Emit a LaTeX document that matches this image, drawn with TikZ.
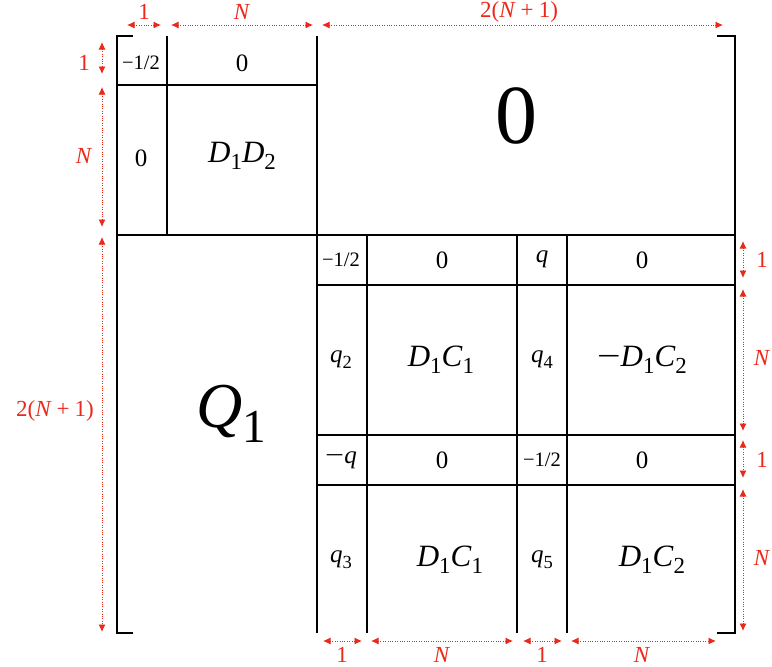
\documentclass[tikz,border=0pt]{standalone}
\usepackage{fontspec}
\setmainfont{Liberation Serif}
\usepackage{graphicx}
\usetikzlibrary{arrows.meta}
\definecolor{dimred}{RGB}{235,40,25}
\newcommand{\lo}[1]{\raisebox{-0.24em}{\scalebox{0.74}{#1}}}
\newcommand{\mi}[1]{\textit{#1}}
\newcommand{\fsz}[1]{\fontsize{#1}{#1}\selectfont}
\newcommand{\mn}{\scalebox{1.35}[1]{−}}
\begin{document}
\begin{tikzpicture}[x=1pt,y=-1pt,
  grid/.style={line width=1.7pt, black},
  brk/.style={line width=2.2pt, black},
  dimline/.style={dimred, line width=0.9pt, dash pattern=on 1pt off 1.4pt, {Latex[length=7.5pt,width=7pt]}-{Latex[length=7.5pt,width=7pt]}},
  dimlab/.style={text=dimred, font=\fsz{23}, inner sep=0pt},
  cell/.style={inner sep=0pt, font=\fsz{25}},
  small/.style={inner sep=0pt, font=\fsz{20.5}},
  mid/.style={inner sep=0pt, font=\fsz{31}}]
\useasboundingbox (0,0) rectangle (772,667);

% brackets
\draw[brk] (133,36) -- (117,36) -- (117,633) -- (133,633);
\draw[brk] (717,36) -- (735,36) -- (735,633) -- (717,633);

% top-left block
\draw[grid] (167,36) -- (167,235);
\draw[grid] (117,85) -- (317,85);
\draw[grid] (317,36) -- (317,633);
\draw[grid] (117,235) -- (735,235);

% bottom-right block
\foreach \xx in {367,517,567} \draw[grid] (\xx,235) -- (\xx,633);
\foreach \yy in {285,435,485} \draw[grid] (317,\yy) -- (735,\yy);

% texts top-left
\node[small] (a11) at (141,63) {−1/2};
\node[cell] (a12) at (242,63) {0};
\node[cell] (a21) at (141,158) {0};
\node[mid] (a22) at (242,156) {\mi{D}\lo{1}\mi{D}\lo{2}};
\node[inner sep=0pt, font=\fsz{84}] (zero) at (516,116) {0};
\node[inner sep=0pt, font=\fsz{64}] (q1) at (231,414) {\mi{Q}\lo{1}};

% bottom-right texts
\node[small] (b11) at (341,260) {−1/2};
\node[cell] (b12) at (442,260) {0};
\node[cell] (b13) at (542,259) {\mi{q}};
\node[cell] (b14) at (642,260) {0};
\node[cell] (b21) at (341,360) {\mi{q}\lo{2}};
\node[mid] (b22) at (441,360) {\mi{D}\lo{1}\mi{C}\lo{1}};
\node[cell] (b23) at (542,360) {\mi{q}\lo{4}};
\node[mid] (b24) at (642,360) {\mn\mi{D}\lo{1}\mi{C}\lo{2}};
\node[cell] (b31) at (341,460) {\mn\mi{q}};
\node[cell] (b32) at (442,460) {0};
\node[small] (b33) at (542,460) {−1/2};
\node[cell] (b34) at (642,460) {0};
\node[cell] (b41) at (341,560) {\mi{q}\lo{3}};
\node[mid] (b42) at (450,560) {\mi{D}\lo{1}\mi{C}\lo{1}};
\node[cell] (b43) at (542,560) {\mi{q}\lo{5}};
\node[mid] (b44) at (652,560) {\mi{D}\lo{1}\mi{C}\lo{2}};

% dimension arrows: top
\coordinate (t1a) at (127,25); \coordinate (t1b) at (161,25);
\coordinate (t2a) at (171,25); \coordinate (t2b) at (313,25);
\coordinate (t3a) at (322,25); \coordinate (t3b) at (723,25);
\draw[dimline] (t1a) -- (t1b);
\draw[dimline] (t2a) -- (t2b);
\draw[dimline] (t3a) -- (t3b);
\node[dimlab] (lt1) at (144,12) {1};
\node[dimlab] (lt2) at (242,12) {\mi{N}};
\node[dimlab] (lt3) at (519,12) {2(\mi{N}\hspace{0.22em}+\hspace{0.22em}1)};

% left
\coordinate (l1a) at (102,42); \coordinate (l1b) at (102,74);
\coordinate (l2a) at (102,87); \coordinate (l2b) at (102,227);
\coordinate (l3a) at (102,237); \coordinate (l3b) at (102,632);
\draw[dimline] (l1a) -- (l1b);
\draw[dimline] (l2a) -- (l2b);
\draw[dimline] (l3a) -- (l3b);
\node[dimlab] (ll1) at (84,63) {1};
\node[dimlab] (ll2) at (84,156) {\mi{N}};
\node[dimlab] (ll3) at (55,411) {2(\mi{N}\hspace{0.22em}+\hspace{0.22em}1)};

% right
\coordinate (r1a) at (743,241); \coordinate (r1b) at (743,278);
\coordinate (r2a) at (743,289); \coordinate (r2b) at (743,431);
\coordinate (r3a) at (743,440); \coordinate (r3b) at (743,478);
\coordinate (r4a) at (743,489); \coordinate (r4b) at (743,631);
\foreach \p in {r1,r2,r3,r4} \draw[dimline] (\p a) -- (\p b);
\node[dimlab] (lr1) at (762,260) {1};
\node[dimlab] (lr2) at (762,358) {\mi{N}};
\node[dimlab] (lr3) at (762,460) {1};
\node[dimlab] (lr4) at (762,558) {\mi{N}};

% bottom
\coordinate (d1a) at (323,641); \coordinate (d1b) at (362,641);
\coordinate (d2a) at (371,641); \coordinate (d2b) at (513,641);
\coordinate (d3a) at (523,641); \coordinate (d3b) at (562,641);
\coordinate (d4a) at (571,641); \coordinate (d4b) at (716,641);
\foreach \p in {d1,d2,d3,d4} \draw[dimline] (\p a) -- (\p b);
\node[dimlab] (ld1) at (342,655) {1};
\node[dimlab] (ld2) at (442,655) {\mi{N}};
\node[dimlab] (ld3) at (542,655) {1};
\node[dimlab] (ld4) at (642,655) {\mi{N}};
\end{tikzpicture}
\end{document}
